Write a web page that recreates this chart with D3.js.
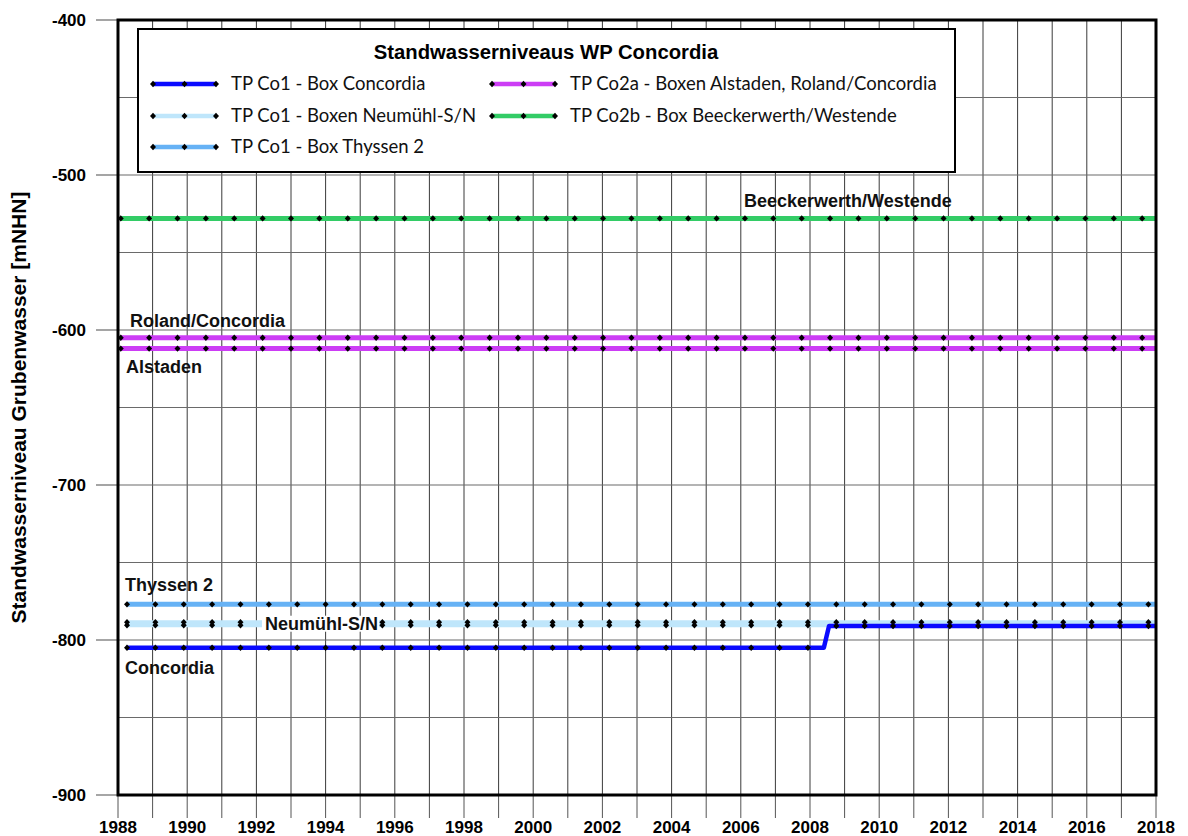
<!DOCTYPE html>
<html>
<head>
<meta charset="utf-8">
<script src="https://cdn.jsdelivr.net/npm/d3@7"></script>
<style>
  html, body { margin: 0; padding: 0; background: #fff; }
  svg { display: block; }
</style>
</head>
<body>
<script>
// ---------------- DATA ----------------
const title = "Standwasserniveaus WP Concordia";
const yAxisTitle = "Standwasserniveau Grubenwasser [mNHN]";
const xTicks = [1988,1990,1992,1994,1996,1998,2000,2002,2004,2006,2008,2010,2012,2014,2016,2018];
const yTicks = [-400,-500,-600,-700,-800,-900];

// measurement dates (decimal years) for TP Co1 series
const co1Dates = [1988.26,1989.08,1989.90,1990.72,1991.54,1992.36,1993.18,1994.00,1994.82,1995.64,
  1996.46,1997.28,1998.10,1998.92,1999.74,2000.56,2001.38,2002.20,2003.02,2003.84,2004.66,2005.48,
  2006.30,2007.12,2007.94,2008.76,2009.58,2010.40,2011.22,2012.04,2012.86,2013.68,2014.50,2015.32,
  2016.14,2016.96,2017.78];
// measurement dates for TP Co2 series
const co2Dates = [1988.08,1988.90,1989.72,1990.54,1991.36,1992.18,1993.00,1993.82,1994.64,1995.46,
  1996.28,1997.10,1997.92,1998.74,1999.56,2000.38,2001.20,2002.02,2002.84,2003.66,2004.48,2005.30,
  2006.12,2006.94,2007.76,2008.58,2009.40,2010.22,2011.04,2011.86,2012.68,2013.50,2014.32,2015.14,
  2015.96,2016.78,2017.60];

const concordiaValues = [-805,-805,-805,-805,-805,-805,-805,-805,-805,-805,-805,-805,-805,-805,-805,
  -805,-805,-805,-805,-805,-805,-805,-805,-805,-805,-791,-791,-791,-791,-791,-791,-791,-791,-791,-791,-791,-791];
const concordiaStep = [[2008.40,-805],[2008.55,-791]];
const neumuehlSValues = [-788.5,-788.5,-788.5,-788.5,-788.5,-788.5,-788.5,-788.5,-788.5,-788.5,-788.5,
  -788.5,-788.5,-788.5,-788.5,-788.5,-788.5,-788.5,-788.5,-788.5,-788.5,-788.5,-788.5,-788.5,-788.5,
  -788.5,-788.5,-788.5,-788.5,-788.5,-788.5,-788.5,-788.5,-788.5,-788.5,-788.5,-788.5];
const neumuehlNValues = [-790.5,-790.5,-790.5,-790.5,-790.5,-790.5,-790.5,-790.5,-790.5,-790.5,-790.5,
  -790.5,-790.5,-790.5,-790.5,-790.5,-790.5,-790.5,-790.5,-790.5,-790.5,-790.5,-790.5,-790.5,-790.5,
  -790.5,-790.5,-790.5,-790.5,-790.5,-790.5,-790.5,-790.5,-790.5,-790.5,-790.5,-790.5];
const thyssenValues = [-777,-777,-777,-777,-777,-777,-777,-777,-777,-777,-777,-777,-777,-777,-777,-777,
  -777,-777,-777,-777,-777,-777,-777,-777,-777,-777,-777,-777,-777,-777,-777,-777,-777,-777,-777,-777,-777];
const rolandValues = [-605,-605,-605,-605,-605,-605,-605,-605,-605,-605,-605,-605,-605,-605,-605,-605,
  -605,-605,-605,-605,-605,-605,-605,-605,-605,-605,-605,-605,-605,-605,-605,-605,-605,-605,-605,-605,-605];
const alstadenValues = [-612,-612,-612,-612,-612,-612,-612,-612,-612,-612,-612,-612,-612,-612,-612,-612,
  -612,-612,-612,-612,-612,-612,-612,-612,-612,-612,-612,-612,-612,-612,-612,-612,-612,-612,-612,-612,-612];
const beeckerwerthValues = [-528,-528,-528,-528,-528,-528,-528,-528,-528,-528,-528,-528,-528,-528,-528,-528,
  -528,-528,-528,-528,-528,-528,-528,-528,-528,-528,-528,-528,-528,-528,-528,-528,-528,-528,-528,-528,-528];

const legendLabels = [
  "TP Co1 - Box Concordia",
  "TP Co1 - Boxen Neumühl-S/N",
  "TP Co1 - Box Thyssen 2",
  "TP Co2a - Boxen Alstaden, Roland/Concordia",
  "TP Co2b - Box Beeckerwerth/Westende"
];
const seriesLabels = ["Beeckerwerth/Westende","Roland/Concordia","Alstaden","Thyssen 2","Neumühl-S/N","Concordia"];

// ---------------- LAYOUT ----------------
const W = 1188, H = 836;
const L = 118, R = 1156, T = 20, B = 795;
const colors = { concordia: "#0a0aff", neumuehl: "#bfe6fb", thyssen: "#66b2f5", pink: "#cc3df5", green: "#33cc66" };

const x = d3.scaleLinear().domain([1988, 2018]).range([L, R]);
const y = d3.scaleLinear().domain([-900, -400]).range([B, T]);

const svg = d3.select("body").append("svg").attr("width", W).attr("height", H);
const AR = "Liberation Sans, Arial, sans-serif";

svg.append("defs").append("clipPath").attr("id", "clip")
  .append("rect").attr("x", L).attr("y", T).attr("width", R - L).attr("height", B - T);

// grid
const years = d3.range(1988, 2019);
svg.append("g").selectAll("line").data(years.filter(d => d > 1988 && d < 2018)).join("line")
  .attr("x1", d => x(d)).attr("x2", d => x(d)).attr("y1", T).attr("y2", B)
  .attr("stroke", "#3a3a3a").attr("stroke-width", 1);
svg.append("g").selectAll("line").data(d3.range(-850, -400, 50)).join("line")
  .attr("x1", L).attr("x2", R).attr("y1", d => y(d)).attr("y2", d => y(d))
  .attr("stroke", "#6a6a6a").attr("stroke-width", 1.2);

// outer ticks
svg.append("g").selectAll("line").data(yTicks).join("line")
  .attr("x1", 96).attr("x2", L).attr("y1", d => y(d)).attr("y2", d => y(d))
  .attr("stroke", "#6a6a6a").attr("stroke-width", 1.2);
svg.append("g").selectAll("line").data(years).join("line")
  .attr("x1", d => x(d)).attr("x2", d => x(d)).attr("y1", B).attr("y2", 818)
  .attr("stroke", "#555").attr("stroke-width", 1);

// tick labels
svg.append("g").selectAll("text").data(yTicks).join("text")
  .attr("x", 86).attr("y", d => y(d)).attr("dy", "0.36em").attr("text-anchor", "end")
  .attr("font-family", AR).attr("font-weight", "bold").attr("font-size", 17)
  .text(d => d3.format("d")(d).replace("−", "-"));
svg.append("g").selectAll("text").data(xTicks).join("text")
  .attr("x", d => x(d)).attr("y", 833).attr("text-anchor", "middle")
  .attr("font-family", AR).attr("font-weight", "bold").attr("font-size", 17)
  .text(d => d);

svg.append("text").attr("transform", `translate(26,${(T + B) / 2}) rotate(-90)`)
  .attr("text-anchor", "middle").attr("font-family", AR).attr("font-weight", "bold").attr("font-size", 21)
  .text(yAxisTitle);

// series
const plot = svg.append("g").attr("clip-path", "url(#clip)");
const line = d3.line().x(d => x(d[0])).y(d => y(d[1]));
const diamond = "M0,-3.2L3,0L0,3.2L-3,0Z";

function pts(dates, vals) { return dates.map((d, i) => [d, vals[i]]); }
function drawSeries(dates, vals, color, width, extra) {
  let p = pts(dates, vals);
  if (extra) p = p.concat(extra).sort((a, b) => a[0] - b[0]);
  const ext = p.concat([[2018.5, vals[vals.length - 1]]]);
  plot.append("path").datum(ext).attr("d", line).attr("fill", "none")
    .attr("stroke", color).attr("stroke-width", width).attr("stroke-linejoin", "round");
}
function drawMarkers(dates, vals) {
  plot.append("g").selectAll("path").data(pts(dates, vals)).join("path")
    .attr("transform", d => `translate(${x(d[0])},${y(d[1])})`).attr("d", diamond).attr("fill", "#000");
}

drawSeries(co2Dates, beeckerwerthValues, colors.green, 5);
drawMarkers(co2Dates, beeckerwerthValues);
drawSeries(co2Dates, rolandValues, colors.pink, 5);
drawSeries(co2Dates, alstadenValues, colors.pink, 5);
drawMarkers(co2Dates, rolandValues);
drawMarkers(co2Dates, alstadenValues);
drawSeries(co1Dates, thyssenValues, colors.thyssen, 5);
drawMarkers(co1Dates, thyssenValues);
drawSeries(co1Dates, neumuehlSValues, colors.neumuehl, 4);
drawSeries(co1Dates, neumuehlNValues, colors.neumuehl, 4);
drawMarkers(co1Dates, neumuehlSValues);
drawMarkers(co1Dates, neumuehlNValues);
drawSeries(co1Dates, concordiaValues, colors.concordia, 4.5, concordiaStep);
drawMarkers(co1Dates, concordiaValues);

// frame
svg.append("rect").attr("x", L).attr("y", T).attr("width", R - L).attr("height", B - T)
  .attr("fill", "none").attr("stroke", "#000").attr("stroke-width", 3);

// series labels
const lab = svg.append("g").attr("font-family", AR).attr("font-weight", "bold").attr("font-size", 18).attr("fill", "#111");
lab.append("text").attr("x", 744).attr("y", y(-528) - 11).text(seriesLabels[0]);
lab.append("text").attr("x", 130).attr("y", y(-605) - 11).text(seriesLabels[1]);
lab.append("text").attr("x", 126).attr("y", y(-612) + 24).text(seriesLabels[2]);
lab.append("text").attr("x", 125).attr("y", y(-777) - 13).text(seriesLabels[3]);
const nm = lab.append("text").attr("x", 265).attr("y", y(-789.5) + 6).text(seriesLabels[4]);
const bb = nm.node().getBBox();
lab.insert("rect", "text:last-child").attr("x", bb.x - 3).attr("y", bb.y + 2).attr("width", bb.width + 4).attr("height", bb.height - 4).attr("fill", "#fff");
lab.append("text").attr("x", 125).attr("y", y(-805) + 26).text(seriesLabels[5]);

// legend
const lg = svg.append("g");
lg.append("rect").attr("x", 138).attr("y", 29).attr("width", 817).attr("height", 143)
  .attr("fill", "#fff").attr("stroke", "#000").attr("stroke-width", 2);
lg.append("text").attr("x", 546).attr("y", 59).attr("text-anchor", "middle")
  .attr("font-family", AR).attr("font-weight", "bold").attr("font-size", 20.3).text(title);
const legItems = [
  { c: colors.concordia, x0: 153, yy: 84 },
  { c: colors.neumuehl, x0: 153, yy: 116 },
  { c: colors.thyssen, x0: 153, yy: 147 },
  { c: colors.pink, x0: 492, yy: 84 },
  { c: colors.green, x0: 492, yy: 116 }
];
legItems.forEach((it, i) => {
  lg.append("line").attr("x1", it.x0).attr("x2", it.x0 + 63).attr("y1", it.yy).attr("y2", it.yy)
    .attr("stroke", it.c).attr("stroke-width", 4.5);
  [0, 31.5, 63].forEach(o => lg.append("path").attr("transform", `translate(${it.x0 + o},${it.yy})`).attr("d", diamond).attr("fill", "#000"));
  lg.append("text").attr("x", it.x0 + 78).attr("y", it.yy).attr("dy", "0.35em")
    .attr("font-family", "Lato, sans-serif").attr("font-size", 18.5).attr("fill", "#111").text(legendLabels[i]);
});
</script>
</body>
</html>
